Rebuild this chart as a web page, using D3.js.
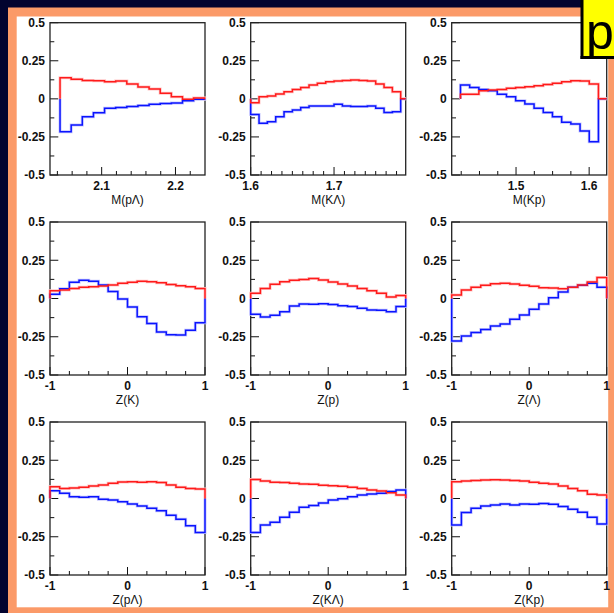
<!DOCTYPE html>
<html>
<head>
<meta charset="utf-8">
<script src="https://cdn.jsdelivr.net/npm/d3@7"></script>
<style>
  html, body { margin: 0; padding: 0; background: #02032f; }
  svg { display: block; }
</style>
</head>
<body>
<svg id="chart" width="614" height="613"></svg>
<script>
// ---- panel variables (row-major, 3x3) ----
const axisTitles = ["M(pΛ)", "M(KΛ)", "M(Kp)", "Z(K)", "Z(p)", "Z(Λ)", "Z(pΛ)", "Z(KΛ)", "Z(Kp)"];

// x-axis ranges of each panel
const xDomains = [
  [2.03, 2.24], [1.6, 1.786], [1.412, 1.624],
  [-1, 1], [-1, 1], [-1, 1],
  [-1, 1], [-1, 1], [-1, 1]
];

// histogram binning: lower edge of first bin and bin width
const binStarts = [2.0436, 1.60, 1.424, -1, -1, -1, -1, -1, -1];
const binWidths = [0.01508, 0.01, 0.01258, 0.125, 0.125, 0.125, 0.125, 0.125, 0.125];

// labelled x ticks
const xMajorTicks = [
  [2.1, 2.2], [1.6, 1.7], [1.5, 1.6],
  [-1, 0, 1], [-1, 0, 1], [-1, 0, 1],
  [-1, 0, 1], [-1, 0, 1], [-1, 0, 1]
];
const xMajorLabels = [
  ["2.1", "2.2"], ["1.6", "1.7"], ["1.5", "1.6"],
  ["-1", "0", "1"], ["-1", "0", "1"], ["-1", "0", "1"],
  ["-1", "0", "1"], ["-1", "0", "1"], ["-1", "0", "1"]
];
const zMinor = [-0.75, -0.5, -0.25, 0.25, 0.5, 0.75];
const xMinorTicks = [
  [2.04, 2.06, 2.08, 2.12, 2.14, 2.16, 2.18, 2.22],
  [1.6125, 1.625, 1.6375, 1.65, 1.6625, 1.675, 1.6875, 1.7125, 1.725, 1.7375, 1.75, 1.7625, 1.775],
  [1.425, 1.45, 1.475, 1.525, 1.55, 1.575],
  zMinor, zMinor, zMinor, zMinor, zMinor, zMinor
];

// y axis (shared by all panels)
const yDomain = [-0.5, 0.5];
const yMajorTicks = [0.5, 0.25, 0, -0.25, -0.5];
const yMajorLabels = ["0.5", "0.25", "0", "-0.25", "-0.5"];
const yMinorTicks = [0.375, 0.125, -0.125, -0.375];

// red histograms, bin contents
const redValues = [
  [0.139, 0.128, 0.121, 0.119, 0.113, 0.117, 0.097, 0.078, 0.065, 0.036, 0.014, -0.003, 0.005],
  [-0.025, 0.014, 0.019, 0.032, 0.047, 0.062, 0.075, 0.091, 0.102, 0.113, 0.117, 0.121, 0.124, 0.121, 0.117, 0.097, 0.075, 0.047],
  [0.030, 0.030, 0.054, 0.058, 0.062, 0.069, 0.075, 0.080, 0.086, 0.095, 0.102, 0.113, 0.119, 0.117, 0.097],
  [0.051, 0.056, 0.066, 0.073, 0.077, 0.082, 0.088, 0.099, 0.106, 0.112, 0.110, 0.103, 0.092, 0.084, 0.077, 0.066],
  [0.034, 0.066, 0.093, 0.110, 0.119, 0.125, 0.130, 0.121, 0.108, 0.095, 0.082, 0.066, 0.051, 0.034, 0.010, 0.019],
  [0.023, 0.056, 0.073, 0.086, 0.097, 0.099, 0.095, 0.086, 0.080, 0.071, 0.069, 0.064, 0.073, 0.088, 0.108, 0.137],
  [0.077, 0.066, 0.069, 0.073, 0.082, 0.088, 0.099, 0.108, 0.110, 0.106, 0.110, 0.104, 0.088, 0.073, 0.066, 0.062],
  [0.125, 0.114, 0.106, 0.104, 0.099, 0.095, 0.093, 0.086, 0.084, 0.080, 0.073, 0.066, 0.056, 0.049, 0.038, 0.023],
  [0.110, 0.114, 0.117, 0.121, 0.123, 0.121, 0.117, 0.114, 0.106, 0.099, 0.095, 0.082, 0.066, 0.051, 0.027, 0.023]
];

// blue histograms, bin contents
const blueValues = [
  [-0.216, -0.172, -0.117, -0.091, -0.062, -0.056, -0.051, -0.043, -0.036, -0.030, -0.028, -0.012, -0.003],
  [-0.102, -0.161, -0.150, -0.117, -0.084, -0.073, -0.056, -0.047, -0.047, -0.047, -0.036, -0.047, -0.051, -0.051, -0.047, -0.062, -0.089, -0.084],
  [0.091, 0.075, 0.062, 0.054, 0.030, 0.014, -0.012, -0.034, -0.062, -0.089, -0.117, -0.154, -0.165, -0.211, -0.282],
  [0.027, 0.064, 0.106, 0.119, 0.112, 0.088, 0.045, -0.003, -0.056, -0.119, -0.164, -0.219, -0.237, -0.239, -0.208, -0.158],
  [-0.103, -0.121, -0.110, -0.086, -0.049, -0.036, -0.038, -0.034, -0.040, -0.047, -0.053, -0.064, -0.075, -0.077, -0.086, -0.053],
  [-0.278, -0.245, -0.223, -0.202, -0.180, -0.167, -0.136, -0.108, -0.071, -0.036, 0.005, 0.042, 0.073, 0.086, 0.099, 0.073],
  [0.051, 0.034, 0.012, 0.008, 0.012, -0.005, -0.010, -0.021, -0.036, -0.049, -0.064, -0.080, -0.110, -0.136, -0.178, -0.223],
  [-0.223, -0.173, -0.156, -0.123, -0.090, -0.058, -0.045, -0.029, -0.010, -0.001, 0.012, 0.023, 0.029, 0.034, 0.045, 0.056],
  [-0.173, -0.092, -0.064, -0.049, -0.042, -0.036, -0.042, -0.036, -0.038, -0.032, -0.038, -0.053, -0.071, -0.090, -0.123, -0.167]
];

// ---- layout ----
const W = 614, H = 613;
const colLefts = [50, 250.7, 451.7];
const colWidth = 155;
const rowTops = [22.7, 222, 422];
const rowBottoms = [175, 375, 575];
const FONT = "'Liberation Sans', Arial, Helvetica, sans-serif";

const svg = d3.select("#chart");

// page background, orange frame and white canvas
svg.append("rect").attr("x", 0).attr("y", 0).attr("width", W).attr("height", H).attr("fill", "#02032f");
svg.append("rect").attr("x", 8).attr("y", 7.5).attr("width", W).attr("height", H).attr("fill", "#fb9a68");
svg.append("rect").attr("x", 16.7).attr("y", 16.5).attr("width", 591.5).attr("height", 590.8).attr("fill", "#ffffff");

const line = d3.line().x(d => d[0]).y(d => d[1]);

axisTitles.forEach((title, i) => {
  const r = Math.floor(i / 3), c = i % 3;
  const x0 = colLefts[c], x1 = x0 + colWidth;
  const y0 = rowTops[r], y1 = rowBottoms[r];

  const x = d3.scaleLinear().domain(xDomains[i]).range([x0, x1]);
  const y = d3.scaleLinear().domain(yDomain).range([y1, y0]);

  const g = svg.append("g");

  // y ticks (inside the frame, left side)
  g.selectAll(null).data(yMajorTicks).enter().append("line")
    .attr("x1", x0).attr("x2", x0 + 8.3)
    .attr("y1", d => y(d)).attr("y2", d => y(d))
    .attr("stroke", "#111").attr("stroke-width", 1);
  g.selectAll(null).data(yMinorTicks).enter().append("line")
    .attr("x1", x0).attr("x2", x0 + 4.3)
    .attr("y1", d => y(d)).attr("y2", d => y(d))
    .attr("stroke", "#111").attr("stroke-width", 1);
  g.selectAll(null).data(yMajorTicks).enter().append("text")
    .attr("x", x0 - 5).attr("y", d => y(d) + 4.3)
    .attr("text-anchor", "end")
    .attr("font-family", FONT).attr("font-weight", "bold").attr("font-size", 12)
    .attr("fill", "#111")
    .text((d, k) => yMajorLabels[k]);

  // x ticks (inside the frame, bottom side)
  g.selectAll(null).data(xMajorTicks[i]).enter().append("line")
    .attr("x1", d => x(d)).attr("x2", d => x(d))
    .attr("y1", y1).attr("y2", y1 - 8)
    .attr("stroke", "#111").attr("stroke-width", 1);
  g.selectAll(null).data(xMinorTicks[i]).enter().append("line")
    .attr("x1", d => x(d)).attr("x2", d => x(d))
    .attr("y1", y1).attr("y2", y1 - 4)
    .attr("stroke", "#111").attr("stroke-width", 1);
  g.selectAll(null).data(xMajorTicks[i]).enter().append("text")
    .attr("x", d => x(d)).attr("y", y1 + 14.5)
    .attr("text-anchor", "middle")
    .attr("font-family", FONT).attr("font-weight", "bold").attr("font-size", 12)
    .attr("fill", "#111")
    .text((d, k) => xMajorLabels[i][k]);

  // axis title
  g.append("text")
    .attr("x", (x0 + x1) / 2).attr("y", y1 + 29)
    .attr("text-anchor", "middle")
    .attr("font-family", FONT).attr("font-size", 12)
    .attr("fill", "#111")
    .text(title);

  // step outline of a histogram, returning to zero at both ends
  function stepPoints(vals) {
    const pts = [];
    const start = binStarts[i], w = binWidths[i];
    pts.push([x(start), y(0)]);
    vals.forEach((v, k) => {
      pts.push([x(start + k * w), y(v)]);
      pts.push([x(start + (k + 1) * w), y(v)]);
    });
    const end = start + vals.length * w;
    pts.push([x(end), y(0)]);
    if (end < xDomains[i][1] - 1e-6) pts.push([x(xDomains[i][1]), y(0)]);
    return pts;
  }

  // frame
  g.append("rect").attr("x", x0).attr("y", y0).attr("width", colWidth).attr("height", y1 - y0)
    .attr("fill", "none").attr("stroke", "#222").attr("stroke-width", 1.3);

  [[blueValues[i], "#0a14ff", "#c8c8ff"], [redValues[i], "#ff1a1a", "#ffc8c8"]].forEach(([vals, col, halo]) => {
    const d = line(stepPoints(vals));
    g.append("path").attr("d", d).attr("fill", "none")
      .attr("stroke", halo).attr("stroke-width", 3).attr("stroke-linejoin", "miter");
  });
  [[blueValues[i], "#0a14ff"], [redValues[i], "#ff1a1a"]].forEach(([vals, col]) => {
    g.append("path").attr("d", line(stepPoints(vals))).attr("fill", "none")
      .attr("stroke", col).attr("stroke-width", 1.5).attr("stroke-linejoin", "miter");
  });
});

// label box in the top-right corner
const defs = svg.append("defs");
defs.append("clipPath").attr("id", "boxClip")
  .append("rect").attr("x", 582).attr("y", -10).attr("width", 40).attr("height", 66.5);
svg.append("rect").attr("x", 582).attr("y", -10).attr("width", 40).attr("height", 67.5)
  .attr("fill", "#ffff00").attr("stroke", "#000").attr("stroke-width", 3);
svg.append("g").attr("clip-path", "url(#boxClip)")
  .append("text").attr("x", 586).attr("y", 49)
  .attr("font-family", FONT).attr("font-size", 50).attr("fill", "#000")
  .text("p");
svg.append("line").attr("x1", 580.5).attr("x2", 614).attr("y1", 57.5).attr("y2", 57.5)
  .attr("stroke", "#000").attr("stroke-width", 3);
</script>
</body>
</html>
